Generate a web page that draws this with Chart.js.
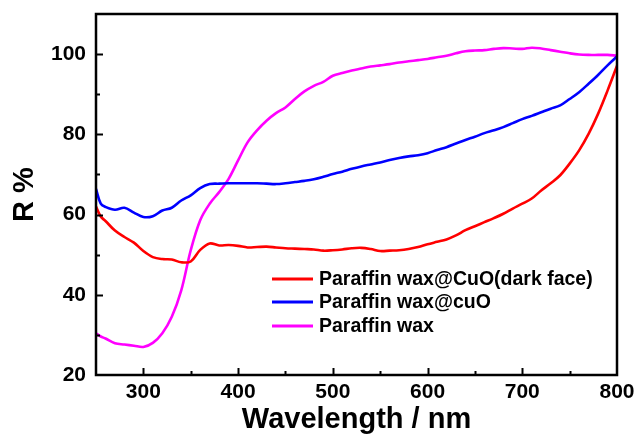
<!DOCTYPE html>
<html>
<head>
<meta charset="utf-8">
<script src="https://cdn.jsdelivr.net/npm/chart.js@4.4.1/dist/chart.umd.min.js"></script>
<style>
  html, body { margin: 0; padding: 0; background: #fff; }
  canvas { display: block; }
</style>
</head>
<body>
<canvas id="myChart" width="638" height="444"></canvas>
<script>
// wavelength (nm)
const wavelength = [250, 255, 260, 270, 280, 290, 300, 310, 320, 330, 340, 350, 360, 370, 380, 390,
  400, 410, 420, 430, 440, 450, 460, 470, 480, 490, 500, 510, 520, 530, 540, 550, 560, 570, 580, 590,
  600, 610, 620, 630, 640, 650, 660, 670, 680, 690, 700, 710, 720, 730, 740, 750, 760, 770, 780, 790, 800];

// R % values
const darkFace = [62.0, 59.5, 58.4, 56.0, 54.4, 53.0, 50.9, 49.4, 48.9, 48.8, 48.1, 48.3, 51.2, 52.8, 52.3, 52.4,
  52.2, 51.8, 51.9, 52.0, 51.8, 51.6, 51.5, 51.4, 51.3, 51.0, 51.1, 51.3, 51.6, 51.7, 51.4, 50.9, 51.0, 51.1, 51.4, 51.9,
  52.6, 53.2, 53.8, 54.8, 56.1, 57.1, 58.1, 59.1, 60.2, 61.5, 62.7, 64.0, 66.0, 67.8, 69.8, 72.7, 76.0, 80.1, 85.1, 90.9, 97.1];
const waxCuO = [66.4, 62.7, 61.9, 61.2, 61.7, 60.5, 59.4, 59.6, 61.0, 61.7, 63.5, 64.8, 66.6, 67.6, 67.7, 67.8,
  67.8, 67.8, 67.8, 67.7, 67.6, 67.8, 68.1, 68.4, 68.8, 69.4, 70.1, 70.7, 71.4, 72.0, 72.5, 73.0, 73.6, 74.1, 74.5, 74.8,
  75.3, 76.1, 76.8, 77.7, 78.6, 79.4, 80.3, 81.0, 81.8, 82.8, 83.8, 84.6, 85.5, 86.4, 87.2, 88.8, 90.5, 92.6, 94.8, 97.2, 99.4];
const wax = [30.4, 29.6, 29.1, 27.9, 27.6, 27.3, 27.0, 28.0, 30.4, 34.5, 41.1, 51.1, 58.6, 62.7, 65.6, 68.9,
  73.5, 78.0, 81.0, 83.4, 85.3, 86.7, 88.8, 90.7, 92.1, 93.1, 94.6, 95.3, 95.9, 96.4, 96.9, 97.2, 97.5, 97.9, 98.2, 98.5,
  98.8, 99.2, 99.6, 100.2, 100.7, 100.9, 101.0, 101.3, 101.5, 101.4, 101.3, 101.6, 101.4, 101.0, 100.6, 100.2, 99.9, 99.8, 99.8, 99.8, 99.6];

const seriesNames = ['Paraffin wax@CuO(dark face)', 'Paraffin wax@cuO', 'Paraffin wax'];
const seriesColors = ['#ff0000', '#0000ff', '#ff00ff'];
const xLabels = [300, 400, 500, 600, 700, 800];
const yLabels = [20, 40, 60, 80, 100];

const FONT = '"Liberation Sans", Arial, sans-serif';

function toPoints(values) {
  return wavelength.map((x, i) => ({ x: x, y: values[i] }));
}

const data = {
  datasets: [darkFace, waxCuO, wax].map((vals, i) => ({
    label: seriesNames[i],
    data: toPoints(vals),
    borderColor: seriesColors[i],
    backgroundColor: seriesColors[i],
    borderWidth: 2.6,
    pointRadius: 0,
    tension: 0.35,
    fill: false
  }))
};

// frame, inward tick marks and the in-plot legend
const framePlugin = {
  id: 'frame',
  afterDatasetsDraw(chart) {
    const { ctx, chartArea: a, scales } = chart;
    ctx.save();
    ctx.strokeStyle = '#000';
    ctx.lineWidth = 2;
    // x ticks
    scales.x.ticks.forEach(t => {
      if (t.value <= 250 || t.value >= 800) return;
      const px = Math.round(scales.x.getPixelForValue(t.value)) + 0.5;
      const len = xLabels.includes(t.value) ? 7 : 4;
      ctx.beginPath();
      ctx.moveTo(px, a.bottom);
      ctx.lineTo(px, a.bottom - len);
      ctx.stroke();
    });
    // y ticks
    scales.y.ticks.forEach(t => {
      if (t.value <= 20 || t.value >= 110) return;
      const py = Math.round(scales.y.getPixelForValue(t.value)) + 0.5;
      const len = yLabels.includes(t.value) ? 7 : 4;
      ctx.beginPath();
      ctx.moveTo(a.left, py);
      ctx.lineTo(a.left + len, py);
      ctx.stroke();
    });
    ctx.lineWidth = 2.5;
    ctx.strokeRect(a.left, a.top, a.right - a.left, a.bottom - a.top);

    // legend
    const rows = [279, 302, 326];
    ctx.font = 'bold 19.5px ' + FONT;
    ctx.textBaseline = 'middle';
    ctx.fillStyle = '#000';
    chart.data.datasets.forEach((ds, i) => {
      ctx.strokeStyle = ds.borderColor;
      ctx.lineWidth = 3;
      ctx.beginPath();
      ctx.moveTo(272, rows[i]);
      ctx.lineTo(313, rows[i]);
      ctx.stroke();
      ctx.fillText(ds.label, 319, rows[i] + 1);
    });
    ctx.restore();
  }
};

new Chart(document.getElementById('myChart'), {
  type: 'line',
  data: data,
  plugins: [framePlugin],
  options: {
    responsive: false,
    animation: false,
    devicePixelRatio: 1,
    layout: { padding: { top: 14, right: 21, left: 0, bottom: 0 } },
    plugins: {
      legend: { display: false },
      tooltip: { enabled: false }
    },
    scales: {
      x: {
        type: 'linear',
        min: 250,
        max: 800,
        afterFit(scale) {
          scale.height = 69;
          scale.paddingLeft = 0;
          scale.paddingRight = 0;
        },
        border: { display: false },
        grid: { display: false, drawTicks: false },
        ticks: {
          stepSize: 50,
          autoSkip: false,
          maxRotation: 0,
          padding: 5,
          color: '#000',
          font: { family: FONT, size: 21, weight: 'bold' },
          callback: v => (xLabels.includes(v) ? String(v) : '')
        },
        title: {
          display: true,
          text: 'Wavelength / nm',
          color: '#000',
          font: { family: FONT, size: 29, weight: 'bold' },
          padding: { top: 0, bottom: 7 }
        }
      },
      y: {
        min: 20,
        max: 110,
        afterFit(scale) {
          scale.width = 96;
          scale.paddingTop = 0;
          scale.paddingBottom = 0;
        },
        border: { display: false },
        grid: { display: false, drawTicks: false },
        ticks: {
          stepSize: 10,
          autoSkip: false,
          padding: 10,
          color: '#000',
          font: { family: FONT, size: 21, weight: 'bold' },
          callback: v => (yLabels.includes(v) ? String(v) : '')
        },
        title: {
          display: true,
          text: 'R %',
          color: '#000',
          font: { family: FONT, size: 29, weight: 'bold' },
          padding: { top: 8, bottom: 0 }
        }
      }
    }
  }
});
</script>
</body>
</html>
